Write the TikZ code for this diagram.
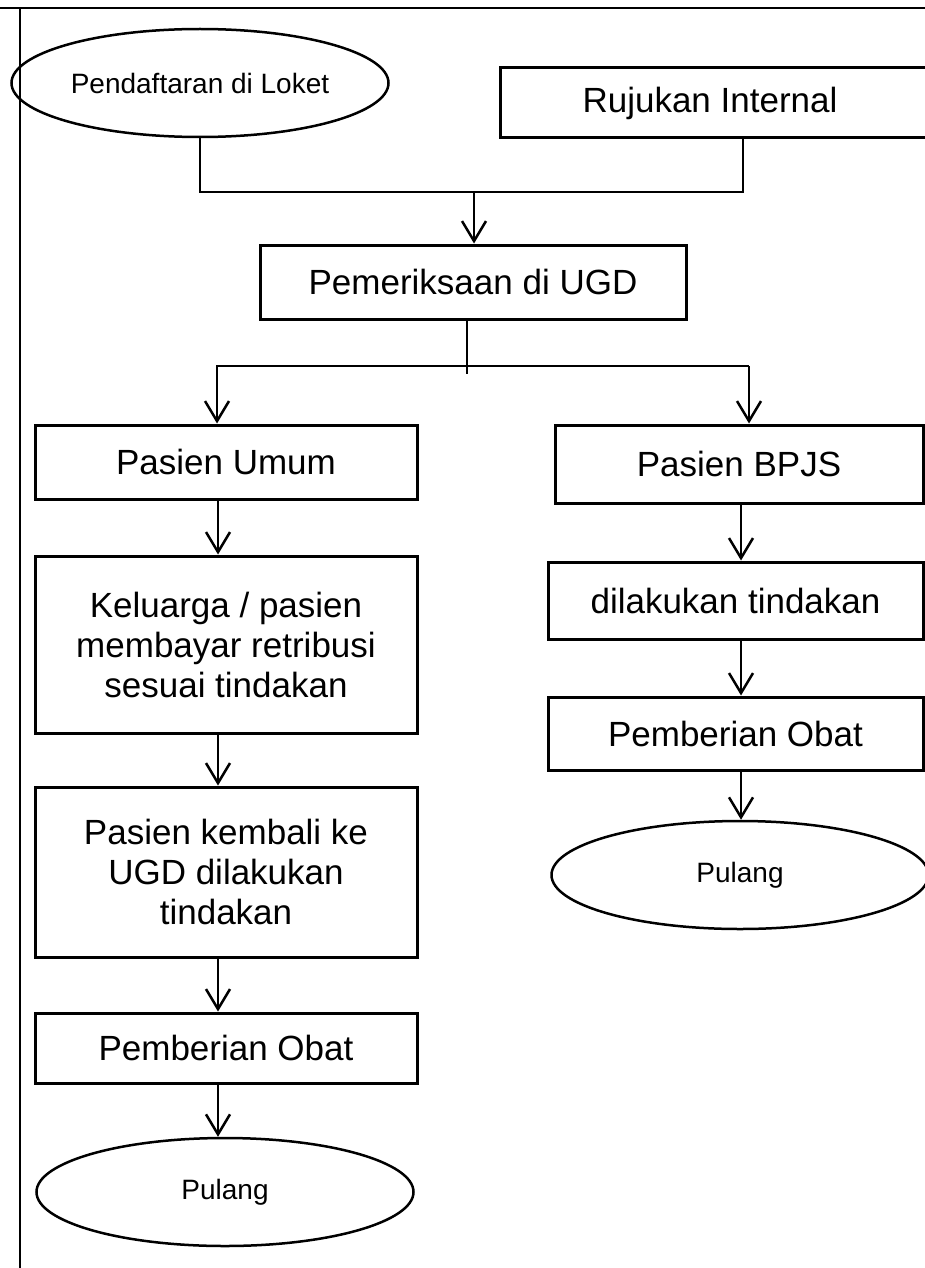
\documentclass[tikz,border=0pt]{standalone}
\usepackage{fontspec}
\setmainfont{Liberation Sans}
\usepackage{tikz}
\usetikzlibrary{arrows.meta,shapes.geometric}

\begin{document}
\begin{tikzpicture}[x=1pt,y=-1pt,
    flowbox/.style={draw,line width=3pt,rectangle,align=center,inner sep=0pt,font=\boxfontsize},
    endoval/.style={draw,line width=2.5pt,ellipse,inner sep=0pt,font=\ovalfontsize},
    link/.style={line width=2.5pt},
    arr/.style={line width=2.5pt,-{Straight Barb[length=20pt,width=24pt]}}]
    \pgfmathsetmacro{\colwidth}{382}
    \pgfmathsetmacro{\rightwidth}{375}
    \pgfmathsetmacro{\ovalwidth}{377}
    \pgfmathsetmacro{\ovalheight}{108}
    \providecommand{\boxfontsize}{\fontsize{35}{40}\selectfont}
    \providecommand{\ovalfontsize}{\fontsize{28}{32}\selectfont}
    \useasboundingbox (0,0) rectangle (925,1268);
    % page frame
    \draw[line width=1.4pt] (0,8) -- (925,8);
    \draw[line width=1.4pt] (20,8) -- (20,1268);
    % top row
    \node[endoval,minimum width=\ovalwidth,minimum height=\ovalheight] (loket) at (200,83) {Pendaftaran di Loket};
    \node[flowbox,minimum width=430,minimum height=70] (rujukan) at (715,103) {Rujukan Internal\hspace*{10pt}};
    \node[flowbox,minimum width=426,minimum height=74] (ugd) at (473,282) {Pemeriksaan di UGD};
    % left column
    \node[flowbox,minimum width=\colwidth,minimum height=74] (umum) at (226,462) {Pasien Umum};
    \node[flowbox,minimum width=\colwidth,minimum height=177] (bayar) at (226,644.5) {Keluarga / pasien\\membayar retribusi\\sesuai tindakan};
    \node[flowbox,minimum width=\colwidth,minimum height=170] (kembali) at (226,872) {Pasien kembali ke\\UGD dilakukan\\tindakan};
    \node[flowbox,minimum width=\colwidth,minimum height=70] (obatumum) at (226,1048) {Pemberian Obat};
    \node[endoval,minimum width=\ovalwidth,minimum height=\ovalheight] (pulangumum) at (225,1192) {Pulang};
    % right column
    \node[flowbox,minimum width=368,minimum height=78] (bpjs) at (739,464) {Pasien BPJS};
    \node[flowbox,minimum width=\rightwidth,minimum height=77] (tindakan) at (735.5,600.5) {dilakukan tindakan};
    \node[flowbox,minimum width=\rightwidth,minimum height=73] (obatbpjs) at (735.5,733.5) {Pemberian Obat};
    \node[endoval,minimum width=\ovalwidth,minimum height=\ovalheight] (pulangbpjs) at (740,875) {Pulang};
    % join and split points
    \coordinate (join) at (474,192);
    \coordinate (joinR) at (743,192);
    \coordinate (split) at (467,366);
    \coordinate (splitL) at (217,366);
    \coordinate (splitR) at (749,366);
    \coordinate (colL) at (218,0);
    \coordinate (colR) at (741,0);
    % connectors
    \draw[link] (loket.south) |- (joinR) -- (rujukan.south -| joinR);
    \draw[arr] (join) -- (join |- ugd.north);
    \draw[link] (ugd.south -| split) -- ++(0,53);
    \draw[arr] (splitR) -- (splitL) -- (splitL |- umum.north);
    \draw[arr] (splitR) -- (splitR |- bpjs.north);
    \draw[arr] (umum.south -| colL) -- (bayar.north -| colL);
    \draw[arr] (bayar.south -| colL) -- (kembali.north -| colL);
    \draw[arr] (kembali.south -| colL) -- (obatumum.north -| colL);
    \draw[arr] (obatumum.south -| colL) -- (pulangumum.north -| colL);
    \draw[arr] (bpjs.south -| colR) -- (tindakan.north -| colR);
    \draw[arr] (tindakan.south -| colR) -- (obatbpjs.north -| colR);
    \draw[arr] (obatbpjs.south -| colR) -- (pulangbpjs.north -| colR);
\end{tikzpicture}
\end{document}
